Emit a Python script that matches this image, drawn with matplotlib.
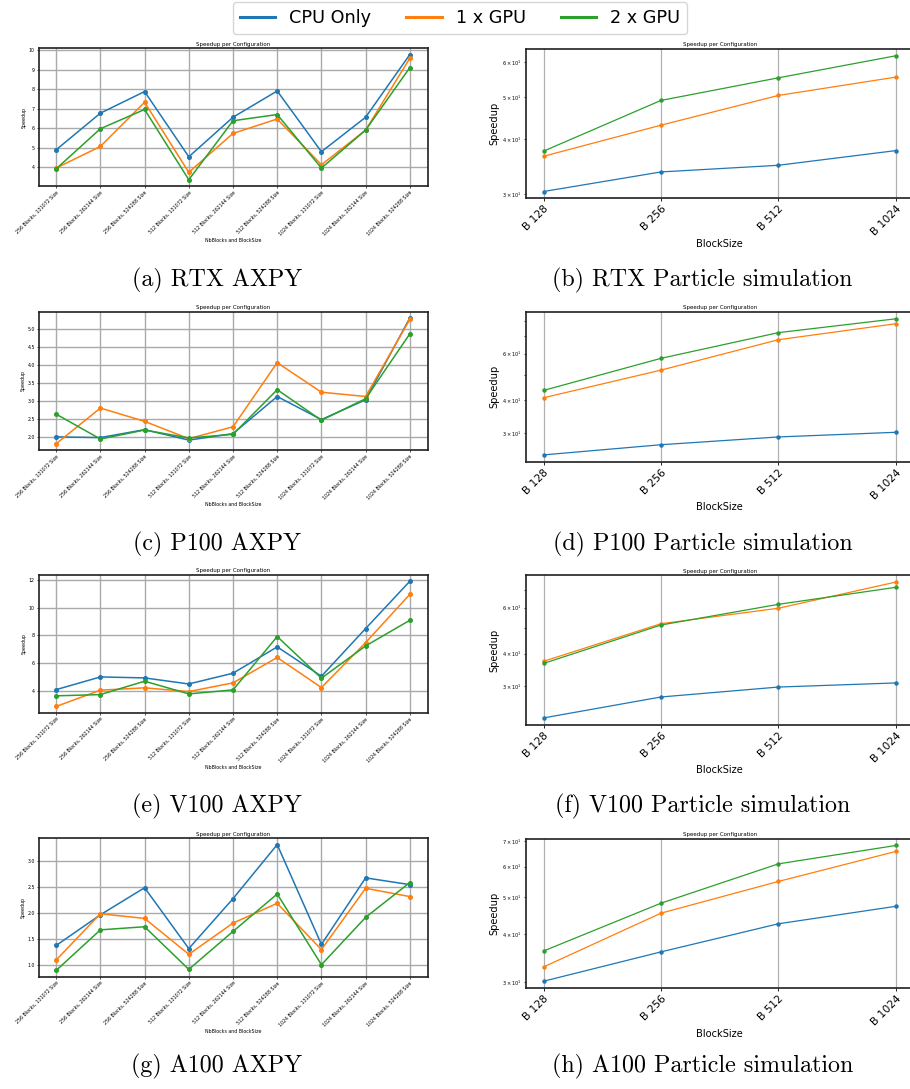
"""
Speedup per configuration for the AXPY and particle simulation benchmarks
on four GPU models (RTX, P100, V100, A100), laid out as a 4x2 grid of
sub-figures with LaTeX-style captions.
"""

import matplotlib
matplotlib.use("Agg")
import matplotlib.pyplot as plt
from matplotlib.lines import Line2D

W, H = 910, 1089

SERIES = ["CPU Only", "1 x GPU", "2 x GPU"]
COLORS = ["#1f77b4", "#ff7f0e", "#2ca02c"]

AXPY_CONFIGS = [
    "256 Blocks, 131072 Size",
    "256 Blocks, 262144 Size",
    "256 Blocks, 524288 Size",
    "512 Blocks, 131072 Size",
    "512 Blocks, 262144 Size",
    "512 Blocks, 524288 Size",
    "1024 Blocks, 131072 Size",
    "1024 Blocks, 262144 Size",
    "1024 Blocks, 524288 Size",
]
BLOCK_SIZES = ["B 128", "B 256", "B 512", "B 1024"]

# AXPY speedups: CPU only, 1 x GPU, 2 x GPU
rtx_axpy_cpu = [4.89, 6.77, 7.88, 4.53, 6.56, 7.91, 4.79, 6.56, 9.78]
rtx_axpy_1gpu = [3.95, 5.06, 7.33, 3.73, 5.73, 6.47, 4.12, 5.90, 9.59]
rtx_axpy_2gpu = [3.91, 5.97, 6.96, 3.35, 6.38, 6.70, 3.95, 5.90, 9.11]

p100_axpy_cpu = [2.00, 1.98, 2.20, 1.91, 2.09, 3.12, 2.48, 3.03, 5.30]
p100_axpy_1gpu = [1.81, 2.80, 2.43, 1.95, 2.28, 4.06, 3.24, 3.12, 5.26]
p100_axpy_2gpu = [2.63, 1.94, 2.19, 1.97, 2.07, 3.31, 2.46, 3.06, 4.86]

v100_axpy_cpu = [4.07, 4.99, 4.92, 4.48, 5.26, 7.17, 5.04, 8.50, 11.93]
v100_axpy_1gpu = [2.85, 4.03, 4.20, 3.93, 4.56, 6.40, 4.22, 7.48, 10.98]
v100_axpy_2gpu = [3.62, 3.71, 4.68, 3.76, 4.05, 7.92, 4.90, 7.24, 9.10]

a100_axpy_cpu = [1.38, 1.97, 2.49, 1.32, 2.28, 3.32, 1.40, 2.68, 2.55]
a100_axpy_1gpu = [1.10, 1.99, 1.90, 1.21, 1.81, 2.19, 1.30, 2.48, 2.32]
a100_axpy_2gpu = [0.90, 1.68, 1.74, 0.92, 1.65, 2.37, 1.01, 1.92, 2.59]

# Particle simulation speedups (log scale)
rtx_part_cpu = [30.4, 33.7, 34.9, 37.7]
rtx_part_1gpu = [36.6, 43.1, 50.4, 55.5]
rtx_part_2gpu = [37.6, 49.1, 55.3, 62.1]

p100_part_cpu = [24.9, 27.2, 29.1, 30.3]
p100_part_1gpu = [40.9, 52.0, 67.7, 77.8]
p100_part_2gpu = [43.6, 57.6, 72.0, 81.2]

v100_part_cpu = [22.7, 27.3, 29.8, 30.9]
v100_part_1gpu = [37.4, 52.1, 59.7, 75.2]
v100_part_2gpu = [36.7, 51.5, 61.8, 71.8]

a100_part_cpu = [30.2, 36.0, 42.6, 47.3]
a100_part_1gpu = [32.9, 45.4, 54.9, 65.7]
a100_part_2gpu = [36.2, 48.2, 61.0, 68.1]

CAPTIONS = [
    ("(a) RTX AXPY", "(b) RTX Particle simulation"),
    ("(c) P100 AXPY", "(d) P100 Particle simulation"),
    ("(e) V100 AXPY", "(f) V100 Particle simulation"),
    ("(g) A100 AXPY", "(h) A100 Particle simulation"),
]

# pixel boxes (top, bottom) of each row of axes and caption centre
LEFT_ROWS = [(48.3, 186.0), (311.7, 450.0), (575.0, 712.7), (838.3, 976.7)]
RIGHT_ROWS = [(49.0, 198.3), (312.0, 461.7), (575.3, 724.7), (838.7, 988.0)]
CAPTION_Y = [280, 544, 806, 1066]


def px_axes(fig, x0, x1, y0, y1):
    return fig.add_axes([x0 / W, 1 - y1 / H, (x1 - x0) / W, (y1 - y0) / H])


def style_spines(ax):
    for sp in ax.spines.values():
        sp.set_linewidth(1.2)
        sp.set_color("#202020")


def plot_axpy(ax, series):
    for vals, label, color in zip(series, SERIES, COLORS):
        ax.plot(AXPY_CONFIGS, vals, marker="o", markersize=2.6,
                linewidth=1.1, color=color, label=label)
    ax.set_title("Speedup per Configuration", fontsize=4, pad=2)
    ax.set_xlabel("NbBlocks and BlockSize", fontsize=3.4, labelpad=1)
    ax.set_ylabel("Speedup", fontsize=3.4, labelpad=1.5)
    ax.tick_params(labelsize=3.4, length=1.6, width=0.5, pad=1)
    plt.setp(ax.get_xticklabels(), rotation=45, ha="right",
             rotation_mode="anchor")
    ax.grid(True, color="#aaaaaa", linewidth=1.0)
    style_spines(ax)


def plot_particles(ax, series):
    for vals, label, color in zip(series, SERIES, COLORS):
        ax.plot(BLOCK_SIZES, vals, marker="o", markersize=2.2,
                linewidth=0.9, color=color, label=label)
    ax.set_yscale("log")
    ax.set_title("Speedup per Configuration", fontsize=4, pad=2)
    ax.set_xlabel("BlockSize", fontsize=7.1, labelpad=1)
    ax.set_ylabel("Speedup", fontsize=7.1, labelpad=2)
    ax.tick_params(axis="x", labelsize=7.7, length=2.5, width=0.6, pad=1.5)
    ax.tick_params(axis="y", which="both", labelsize=3.6, length=1.5,
                   width=0.5, pad=1.5)
    plt.setp(ax.get_xticklabels(), rotation=45, ha="right",
             rotation_mode="anchor")
    ax.grid(True, color="#b0b0b0", linewidth=0.9)
    style_spines(ax)


def main() -> None:
    fig = plt.figure(figsize=(W / 100, H / 100), dpi=100)

    axpy = [
        (rtx_axpy_cpu, rtx_axpy_1gpu, rtx_axpy_2gpu),
        (p100_axpy_cpu, p100_axpy_1gpu, p100_axpy_2gpu),
        (v100_axpy_cpu, v100_axpy_1gpu, v100_axpy_2gpu),
        (a100_axpy_cpu, a100_axpy_1gpu, a100_axpy_2gpu),
    ]
    particles = [
        (rtx_part_cpu, rtx_part_1gpu, rtx_part_2gpu),
        (p100_part_cpu, p100_part_1gpu, p100_part_2gpu),
        (v100_part_cpu, v100_part_1gpu, v100_part_2gpu),
        (a100_part_cpu, a100_part_1gpu, a100_part_2gpu),
    ]

    for row in range(4):
        ax_l = px_axes(fig, 38.5, 427.5, *LEFT_ROWS[row])
        plot_axpy(ax_l, axpy[row])
        ax_r = px_axes(fig, 526.0, 913.3, *RIGHT_ROWS[row])
        plot_particles(ax_r, particles[row])

        cap_l, cap_r = CAPTIONS[row]
        y = 1 - CAPTION_Y[row] / H
        fig.text(217 / W, y, cap_l, family="cmr10", fontsize=17.3,
                 ha="center", va="center")
        fig.text(702.5 / W, y, cap_r, family="cmr10", fontsize=17.3,
                 ha="center", va="center")

    # legend shows plain line handles, no markers
    handles = [Line2D([], [], color=c, linewidth=2.2) for c in COLORS]
    fig.legend(handles, SERIES, loc="upper center", ncol=3, fontsize=12.7,
               bbox_to_anchor=(460 / W, 1 - 2 / H), borderaxespad=0,
               handlelength=2)

    fig.savefig("out.png", dpi=100)
    plt.close(fig)


if __name__ == "__main__":
    main()
